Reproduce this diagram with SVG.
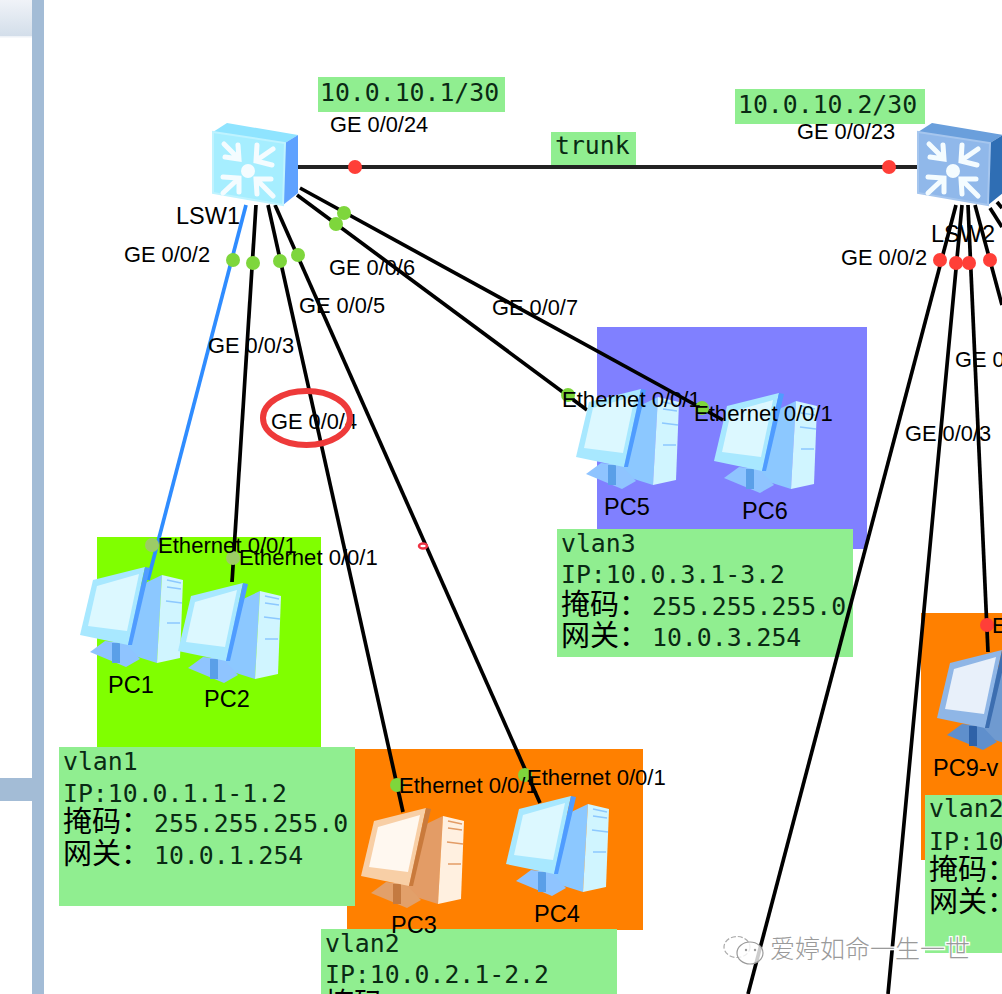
<svg xmlns="http://www.w3.org/2000/svg" width="1002" height="994" viewBox="0 0 1002 994">
<style>
.lbl{font-family:"Liberation Sans",Arial,sans-serif;font-size:21.8px;fill:#000}
.eth{font-family:"Liberation Sans",Arial,sans-serif;font-size:22.1px;fill:#000}
.name{font-family:"Liberation Sans",Arial,sans-serif;font-size:23.5px;fill:#000}
.mono{font-family:"DejaVu Sans Mono",monospace;font-size:24.8px;fill:#0a2a14}
.cjk{font-family:"Noto Sans CJK SC",sans-serif;font-size:29px;fill:#000}
.box{fill:#90ee90}
.link{stroke:#000;stroke-width:3.7;fill:none}
.up{fill:#7ed63c}
.down{fill:#ff3f38}
.pc-a{--m:#a8e8ff;--s:#dcf8ff;--e:#4f9cff;--t:#8cc8ff;--f:#d0f5ff;--b:#8fc4ff;--d:#5a9fe8}
.pc-o{--m:#f8cfa6;--s:#fff8f0;--e:#c97a3c;--t:#e39c66;--f:#fff0e0;--b:#e2a06a;--d:#c47a40}
.pc-d{--m:#8fb6e6;--s:#e8f0fa;--e:#3c6eb0;--t:#6f9ad0;--f:#cfe0f4;--b:#5f8fcc;--d:#2f62a8}
.sw-a{--top:#8fe4ff;--front:#a6eeff;--side:#5fa2ff;--rim:#bff3ff}
.sw-d{--top:#6a9fdc;--front:#90b8ea;--side:#2f6eb4;--rim:#a6c6ee}
</style>
<defs>
<symbol id="pc" viewBox="0 0 106 104" width="106" height="104" overflow="visible">
<polygon points="62,20 83,10 78,98 40,86" style="fill:var(--t)"/>
<polygon points="83,10 104,15 101,93 78,98" style="fill:var(--f)"/>
<path d="M88,15 102,18M88,22 102,24M87,36 103,38M88,58 101,58" style="stroke:var(--t)" stroke-width="1.5" fill="none"/>
<polygon points="11,87 26,76 46,78 61,94 47,102" style="fill:var(--b)"/>
<rect x="33" y="78" width="8" height="20" style="fill:var(--d)"/>
<polygon points="14,15 66,2 49,80 1,70" style="fill:var(--m)"/>
<polygon points="66,2 71,3 53,80 49,80" style="fill:var(--e)"/>
<polygon points="18,21 60,9 48,66 9,61" style="fill:var(--s)"/>
</symbol>
<symbol id="sw" viewBox="0 0 90 86" width="90" height="86" overflow="visible">
<polygon points="0,10 14,1 85,13 72,21" style="fill:var(--top)"/>
<polygon points="72,21 85,13 85,71 70,83" style="fill:var(--side)"/>
<polygon points="0,10 72,21 70,83 0,71" style="fill:var(--front)"/>
<polygon points="0,10 72,21 70,83 0,71" style="stroke:var(--rim)" stroke-width="2" fill="none"/>
<circle cx="35" cy="49" r="7" fill="#f4fcff"/>
<g fill="none" stroke="#f4fcff" stroke-width="5" stroke-linecap="round">
<path d="M11,22 25,36M12,35 26,37 25,23"/>
<path d="M60,27 44,38M44,23 43,39 59,43"/>
<path d="M10,71 25,57M10,55 26,56 26,70"/>
<path d="M60,74 44,58M44,72 43,57 58,57"/>
</g>
</symbol>
</defs>

<rect width="1002" height="994" fill="#fff"/>
<g id="side-panel">
<linearGradient id="pg" x1="0" y1="0" x2="0" y2="1"><stop offset="0" stop-color="#f0f3f8"/><stop offset="1" stop-color="#d3deea"/></linearGradient>
<rect x="0" y="0" width="32" height="36" fill="url(#pg)"/>
<rect x="0" y="36" width="32" height="1.5" fill="#eef2f7"/>
<rect x="32" y="0" width="12" height="994" fill="#a3bcd6"/>
<rect x="0" y="778" width="32" height="23" fill="#a3bcd6"/>
</g>

<g id="zones">
<rect x="97" y="537" width="224" height="212" fill="#80ff00"/>
<rect x="347" y="749" width="296" height="181" fill="#ff8000"/>
<rect x="597" y="327" width="270" height="222" fill="#8080ff"/>
<rect x="921" y="613" width="81" height="247" fill="#ff8000"/>
</g>

<g id="note-boxes">
<rect class="box" x="59" y="747" width="296" height="159"/>
<rect class="box" x="321" y="929" width="296" height="65"/>
<rect class="box" x="557" y="529" width="296" height="128"/>
<rect class="box" x="925" y="795" width="77" height="158"/>
<rect class="box" x="318" y="77" width="187" height="35"/>
<rect class="box" x="735" y="89" width="190" height="35"/>
<rect class="box" x="551" y="132" width="85" height="33"/>
</g>

<g id="connectors">
<line x1="298" y1="167" x2="920" y2="167" stroke="#222" stroke-width="4"/>
<line x1="246" y1="205" x2="148" y2="580" stroke="#2f8cff" stroke-width="3.7"/>
<line class="link" x1="256" y1="205" x2="232" y2="582"/>
<line class="link" x1="268" y1="205" x2="403" y2="812"/>
<line class="link" x1="275" y1="205" x2="540" y2="803"/>
<line class="link" x1="297" y1="195" x2="587" y2="410"/>
<line class="link" x1="300" y1="188" x2="723" y2="420"/>
<line class="link" x1="956" y1="205" x2="748" y2="994"/>
<line class="link" x1="962" y1="205" x2="888" y2="994"/>
<line class="link" x1="968" y1="205" x2="988" y2="652"/>
<line class="link" x1="975" y1="205" x2="1002" y2="305"/>
<line class="link" x1="990" y1="208" x2="1002" y2="227"/>
<line class="link" x1="997" y1="202" x2="1002" y2="208"/>
<circle class="down" cx="355" cy="167" r="7"/>
<circle class="down" cx="889" cy="167" r="7"/>
<circle class="up" cx="233" cy="260" r="7"/>
<circle class="up" cx="253" cy="263" r="7"/>
<circle class="up" cx="280" cy="261" r="7"/>
<circle class="up" cx="298" cy="255" r="7"/>
<circle class="up" cx="336" cy="224" r="7"/>
<circle class="up" cx="344" cy="213" r="7"/>
<circle class="down" cx="940" cy="260" r="7"/>
<circle class="down" cx="956" cy="263" r="7"/>
<circle class="down" cx="969" cy="263" r="7"/>
<circle class="down" cx="990" cy="260" r="7"/>
<circle cx="152" cy="545" r="7" fill="#9ccc66"/>
<circle cx="233" cy="558" r="7" fill="#9ccc66"/>
<circle class="up" cx="397" cy="785" r="7"/>
<circle class="up" cx="525" cy="775" r="7"/>
<circle class="up" cx="568" cy="395" r="7"/>
<circle class="up" cx="702" cy="408" r="7"/>
<circle class="down" cx="987" cy="625" r="7"/>
<ellipse cx="423" cy="546" rx="4" ry="2.5" fill="#fff" stroke="#ee3344" stroke-width="2.5"/>
</g>

<g id="LSW1"><use href="#sw" class="sw-a" x="213" y="122"/><text class="name" x="176" y="224">LSW1</text></g>
<g id="LSW2"><use href="#sw" class="sw-d" x="918" y="122"/><text class="name" x="931" y="242">LSW2</text></g>
<g id="PC1"><use href="#pc" class="pc-a" x="79" y="565"/><text class="name" x="108" y="693">PC1</text></g>
<g id="PC2"><use href="#pc" class="pc-a" x="177" y="581"/><text class="name" x="204" y="707">PC2</text></g>
<g id="PC3"><use href="#pc" class="pc-o" x="360" y="806"/><text class="name" x="391" y="933">PC3</text></g>
<g id="PC4"><use href="#pc" class="pc-a" x="505" y="794"/><text class="name" x="534" y="922">PC4</text></g>
<g id="PC5"><use href="#pc" class="pc-a" x="575" y="387"/><text class="name" x="604" y="515">PC5</text></g>
<g id="PC6"><use href="#pc" class="pc-a" x="713" y="391"/><text class="name" x="742" y="519">PC6</text></g>
<g id="PC9"><use href="#pc" class="pc-d" x="936" y="648"/><text class="name" x="933" y="776">PC9-v</text></g>

<g id="port-labels">
<text class="lbl" x="330" y="132">GE 0/0/24</text>
<text class="lbl" x="797" y="139">GE 0/0/23</text>
<text class="lbl" x="124" y="262">GE 0/0/2</text>
<text class="lbl" x="208" y="353">GE 0/0/3</text>
<text class="lbl" x="271" y="429">GE 0/0/4</text>
<text class="lbl" x="299" y="313">GE 0/0/5</text>
<text class="lbl" x="329" y="275">GE 0/0/6</text>
<text class="lbl" x="492" y="315">GE 0/0/7</text>
<text class="lbl" x="841" y="265">GE 0/0/2</text>
<text class="lbl" x="905" y="441">GE 0/0/3</text>
<text class="lbl" x="955" y="367">GE 0</text>
<text class="eth" x="158" y="553">Ethernet 0/0/1</text>
<text class="eth" x="239" y="565">Ethernet 0/0/1</text>
<text class="eth" x="399" y="793">Ethernet 0/0/1</text>
<text class="eth" x="527" y="785">Ethernet 0/0/1</text>
<text class="eth" x="562" y="407">Ethernet 0/0/1</text>
<text class="eth" x="694" y="421">Ethernet 0/0/1</text>
<text class="lbl" x="992" y="633">E</text>
</g>

<g id="notes">
<text class="mono" x="320" y="101">10.0.10.1/30</text>
<text class="mono" x="738" y="113">10.0.10.2/30</text>
<text class="mono" x="555" y="154">trunk</text>
<text class="mono" x="63" y="770">vlan1</text>
<text class="mono" x="63" y="802">IP:10.0.1.1-1.2</text>
<text class="cjk" x="63" y="832">掩码：</text><text class="mono" x="154" y="832">255.255.255.0</text>
<text class="cjk" x="63" y="864">网关：</text><text class="mono" x="154" y="864">10.0.1.254</text>
<text class="mono" x="325" y="952">vlan2</text>
<text class="mono" x="325" y="983">IP:10.0.2.1-2.2</text>
<text class="cjk" x="325" y="1014">掩码</text>
<text class="mono" x="561" y="552">vlan3</text>
<text class="mono" x="561" y="583">IP:10.0.3.1-3.2</text>
<text class="cjk" x="561" y="615">掩码：</text><text class="mono" x="652" y="615">255.255.255.0</text>
<text class="cjk" x="561" y="646">网关：</text><text class="mono" x="652" y="646">10.0.3.254</text>
<text class="mono" x="929" y="817">vlan2</text>
<text class="mono" x="929" y="850">IP:10</text>
<text class="cjk" x="929" y="880">掩码：</text>
<text class="cjk" x="929" y="912">网关：</text>
</g>

<ellipse id="highlight" cx="306.5" cy="418" rx="43.5" ry="27" fill="none" stroke="#ee3a3a" stroke-width="6"/>

<g id="watermark">
<ellipse cx="737" cy="947" rx="13" ry="10.5" fill="#fff" fill-opacity=".7" stroke="#aaa" stroke-width="1.2" stroke-dasharray="5 2"/>
<ellipse cx="750" cy="953" rx="13" ry="11" fill="#fff" fill-opacity=".8" stroke="#999" stroke-width="1.2"/>
<circle cx="746" cy="950" r="1.2" fill="#999"/><circle cx="755" cy="950" r="1.2" fill="#999"/>
<text x="770" y="958" font-family="'Noto Sans CJK SC',sans-serif" font-size="25" font-weight="300" fill="#9a9a9a" stroke="#fff" stroke-width="2.5" paint-order="stroke">爱婷如命一生一世</text>
</g>
</svg>
